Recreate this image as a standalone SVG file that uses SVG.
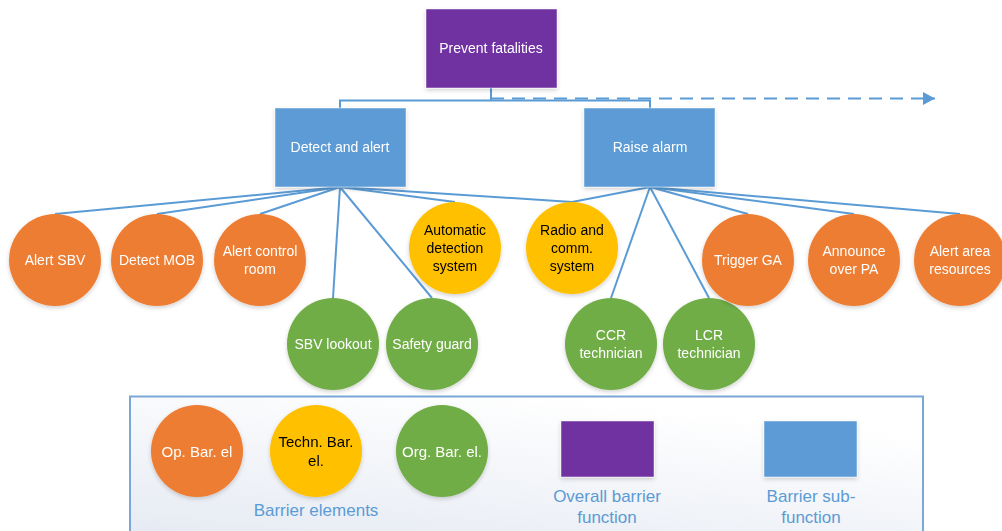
<svg xmlns="http://www.w3.org/2000/svg" width="1002" height="531" viewBox="0 0 1002 531">
<style>
.box{stroke:#ffffff;stroke-width:0.8;stroke-opacity:0.6}
.pur{fill:#7030A0}
.blu{fill:#5B9BD5}
.ora{fill:#ED7D31}
.yel{fill:#FFC000}
.grn{fill:#70AD47}
.t{font-family:"Liberation Sans",Arial,sans-serif;font-size:14px;text-anchor:middle}
.tb{font-family:"Liberation Sans",Arial,sans-serif;font-size:14px;text-anchor:middle;fill:#ffffff}
.w{fill:#ffffff}
.k{fill:#000000}
.lt{font-family:"Liberation Sans",Arial,sans-serif;font-size:15px;text-anchor:middle}
.lg{font-family:"Liberation Sans",Arial,sans-serif;font-size:17px;text-anchor:middle;fill:#5B9BD5}
.c{stroke:#5B9BD5;stroke-width:2;fill:none}
.sh{filter:url(#shadow)}
</style>
<defs>
<filter id="shadow" x="-20%" y="-20%" width="140%" height="150%">
<feDropShadow dx="0" dy="2" stdDeviation="2" flood-color="#000000" flood-opacity="0.18"/>
</filter>
<linearGradient id="lgbg" x1="0" y1="1" x2="0.55" y2="0">
<stop offset="0" stop-color="#E4E9F2"/>
<stop offset="1" stop-color="#FFFFFF"/>
</linearGradient>
<marker id="arrow" markerWidth="12" markerHeight="13" refX="12" refY="6.5" orient="auto" markerUnits="userSpaceOnUse">
<path d="M0,0 L12,6.5 L0,13 Z" fill="#5B9BD5"/>
</marker>
</defs>

<g id="legend">
<rect x="130" y="396.5" width="793" height="150" fill="url(#lgbg)" stroke="#7AA7D6" stroke-width="2"/>
<g id="legend-op" class="sh"><circle cx="197" cy="451" r="46" class="ora"/><text class="lt w" x="197" y="457">Op. Bar. el</text></g>
<g id="legend-tech" class="sh"><circle cx="316" cy="451" r="46" class="yel"/><text class="lt k" x="316" y="447">Techn. Bar.</text><text class="lt k" x="316" y="466">el.</text></g>
<g id="legend-org" class="sh"><circle cx="442" cy="451" r="46" class="grn"/><text class="lt w" x="442" y="457">Org. Bar. el.</text></g>
<text class="lg" x="316" y="516">Barrier elements</text>
<rect x="561" y="421" width="93" height="56" class="pur box sh"/>
<text class="lg" x="607" y="502">Overall barrier</text>
<text class="lg" x="607" y="523">function</text>
<rect x="764" y="421" width="93" height="56" class="blu box sh"/>
<text class="lg" x="811" y="502">Barrier sub-</text>
<text class="lg" x="811" y="523">function</text>
</g>

<g id="connectors">
<path class="c" d="M491,88 V100.5 M340,108 V100.5 H650 V108"/>
<line class="c" x1="491" y1="98.5" x2="935" y2="98.5" stroke-dasharray="13,8" marker-end="url(#arrow)"/>
<line class="c" x1="340" y1="187" x2="55" y2="214"/>
<line class="c" x1="340" y1="187" x2="157" y2="214"/>
<line class="c" x1="340" y1="187" x2="260" y2="214"/>
<line class="c" x1="340" y1="187" x2="333" y2="298"/>
<line class="c" x1="340" y1="187" x2="432" y2="298"/>
<line class="c" x1="340" y1="187" x2="455" y2="202"/>
<line class="c" x1="340" y1="187" x2="572" y2="202"/>
<line class="c" x1="650" y1="187" x2="572" y2="202"/>
<line class="c" x1="650" y1="187" x2="611" y2="298"/>
<line class="c" x1="650" y1="187" x2="709" y2="298"/>
<line class="c" x1="650" y1="187" x2="748" y2="214"/>
<line class="c" x1="650" y1="187" x2="854" y2="214"/>
<line class="c" x1="650" y1="187" x2="960" y2="214"/>
</g>

<g id="prevent-fatalities" class="sh"><rect x="426" y="9" width="131" height="79" class="pur box"/><text class="tb" x="491" y="53">Prevent fatalities</text></g>
<g id="detect-and-alert" class="sh"><rect x="275" y="108" width="131" height="79" class="blu box"/><text class="tb" x="340" y="152">Detect and alert</text></g>
<g id="raise-alarm" class="sh"><rect x="584" y="108" width="131" height="79" class="blu box"/><text class="tb" x="650" y="152">Raise alarm</text></g>

<g id="alert-sbv" class="sh"><circle cx="55" cy="260" r="46" class="ora"/><text class="t w" x="55" y="265">Alert SBV</text></g>
<g id="detect-mob" class="sh"><circle cx="157" cy="260" r="46" class="ora"/><text class="t w" x="157" y="265">Detect MOB</text></g>
<g id="alert-control-room" class="sh"><circle cx="260" cy="260" r="46" class="ora"/><text class="t w" x="260" y="256">Alert control</text><text class="t w" x="260" y="274">room</text></g>
<g id="sbv-lookout" class="sh"><circle cx="333" cy="344" r="46" class="grn"/><text class="t w" x="333" y="349">SBV lookout</text></g>
<g id="safety-guard" class="sh"><circle cx="432" cy="344" r="46" class="grn"/><text class="t w" x="432" y="349">Safety guard</text></g>
<g id="automatic-detection-system" class="sh"><circle cx="455" cy="248" r="46" class="yel"/><text class="t k" x="455" y="235">Automatic</text><text class="t k" x="455" y="253">detection</text><text class="t k" x="455" y="271">system</text></g>
<g id="radio-and-comm-system" class="sh"><circle cx="572" cy="248" r="46" class="yel"/><text class="t k" x="572" y="235">Radio and</text><text class="t k" x="572" y="253">comm.</text><text class="t k" x="572" y="271">system</text></g>
<g id="ccr-technician" class="sh"><circle cx="611" cy="344" r="46" class="grn"/><text class="t w" x="611" y="340">CCR</text><text class="t w" x="611" y="358">technician</text></g>
<g id="lcr-technician" class="sh"><circle cx="709" cy="344" r="46" class="grn"/><text class="t w" x="709" y="340">LCR</text><text class="t w" x="709" y="358">technician</text></g>
<g id="trigger-ga" class="sh"><circle cx="748" cy="260" r="46" class="ora"/><text class="t w" x="748" y="265">Trigger GA</text></g>
<g id="announce-over-pa" class="sh"><circle cx="854" cy="260" r="46" class="ora"/><text class="t w" x="854" y="256">Announce</text><text class="t w" x="854" y="274">over PA</text></g>
<g id="alert-area-resources" class="sh"><circle cx="960" cy="260" r="46" class="ora"/><text class="t w" x="960" y="256">Alert area</text><text class="t w" x="960" y="274">resources</text></g>
</svg>
